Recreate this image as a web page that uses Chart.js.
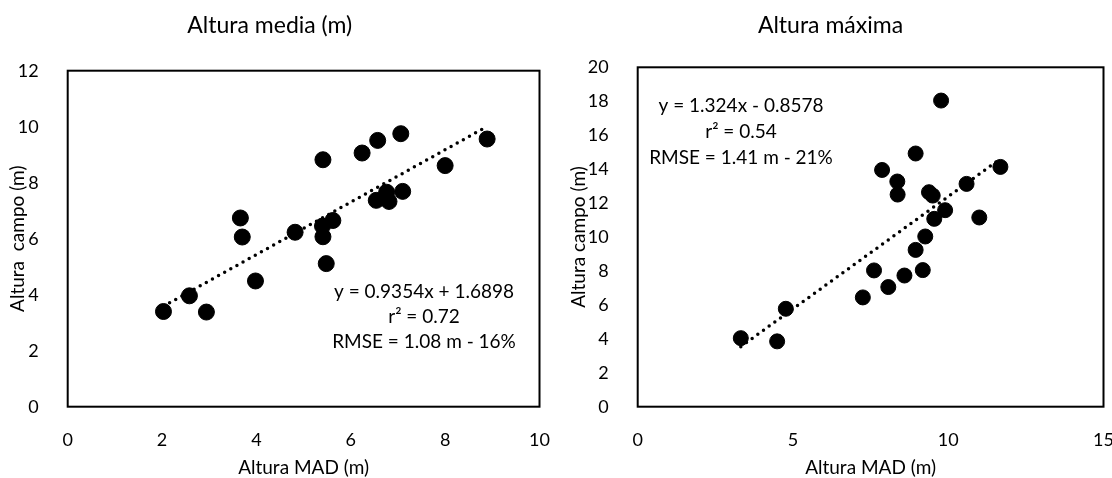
<!DOCTYPE html>
<html>
<head>
<meta charset="utf-8">
<script src="https://cdn.jsdelivr.net/npm/chart.js@4.4.1/dist/chart.umd.min.js"></script>
<style>
    body { margin: 0; background: #fff; }
    #wrap { position: relative; width: 1112px; height: 478px; overflow: hidden; }
    #wrap canvas { position: absolute; top: 0; }
</style>
</head>
<body>
<div id="wrap">
    <canvas id="chart-media" width="556" height="478" style="left:0"></canvas>
    <canvas id="chart-max" width="556" height="478" style="left:556px"></canvas>
</div>
<script>
// Altura media: MAD vs campo
const mediaMAD = [2.03, 2.58, 2.94, 3.66, 3.70, 3.98, 4.82, 5.41, 5.40, 5.41, 5.48, 5.62, 6.24, 6.57, 7.06, 6.54, 6.76, 6.81, 7.10, 8.00, 8.89];
const mediaCampo = [3.40, 3.96, 3.38, 6.74, 6.06, 4.49, 6.23, 8.82, 6.45, 6.07, 5.11, 6.65, 9.06, 9.51, 9.75, 7.37, 7.66, 7.33, 7.69, 8.61, 9.56];
const mediaTrendX = [2.03, 8.89];
const mediaTrendY = [3.59, 10.01];
const mediaText = ['y = 0.9354x + 1.6898', 'r\u00b2 = 0.72', 'RMSE = 1.08 m - 16%'];

// Altura máxima: MAD vs campo
const maxMAD = [3.32, 4.49, 4.77, 7.25, 7.61, 7.87, 8.07, 8.36, 8.37, 8.59, 8.95, 8.95, 9.18, 9.26, 9.38, 9.50, 9.55, 9.77, 9.90, 10.59, 11.00, 11.68];
const maxCampo = [4.04, 3.85, 5.77, 6.44, 8.03, 13.95, 7.05, 13.27, 12.50, 7.73, 14.92, 9.24, 8.05, 10.03, 12.64, 12.44, 11.07, 18.04, 11.58, 13.13, 11.15, 14.13];
const maxTrendX = [3.32, 11.68];
const maxTrendY = [3.54, 14.61];
const maxText = ['y = 1.324x - 0.8578', 'r\u00b2 = 0.54', 'RMSE = 1.41 m - 21%'];

const FONT = 'Lato, "Open Sans", sans-serif';

// Black frame round the plot area
const frameBox = {
    id: 'frameBox',
    afterDraw(chart) {
        const a = chart.chartArea;
        const ctx = chart.ctx;
        ctx.save();
        ctx.strokeStyle = '#000';
        ctx.lineWidth = 2;
        ctx.strokeRect(a.left, a.top, a.right - a.left, a.bottom - a.top);
        ctx.restore();
    }
};

// Equation / r² / RMSE text block
const eqText = {
    id: 'eqText',
    afterDatasetsDraw(chart, args, opts) {
        if (!opts || !opts.lines) return;
        const ctx = chart.ctx;
        ctx.save();
        ctx.fillStyle = '#000';
        ctx.font = '19px ' + FONT;
        ctx.textAlign = 'center';
        ctx.textBaseline = 'middle';
        opts.lines.forEach((line, i) => {
            ctx.fillText(line, opts.cx, opts.cy + i * opts.gap);
        });
        ctx.restore();
    }
};

Chart.register(frameBox, eqText);

function toPoints(xs, ys) {
    return xs.map((x, i) => ({ x: x, y: ys[i] }));
}

function makeChart(canvasId, cfg) {
    const canvas = document.getElementById(canvasId);
    const area = cfg.area;
    return new Chart(canvas, {
        type: 'scatter',
        data: {
            datasets: [
                {
                    type: 'line',
                    data: toPoints(cfg.trendX, cfg.trendY),
                    borderColor: '#000',
                    borderWidth: 3.5,
                    borderDash: [0, 7],
                    borderCapStyle: 'round',
                    pointRadius: 0,
                    fill: false
                },
                {
                    data: toPoints(cfg.xs, cfg.ys),
                    backgroundColor: '#000',
                    borderColor: '#000',
                    pointRadius: cfg.radius,
                    pointHoverRadius: cfg.radius
                }
            ]
        },
        options: {
            responsive: false,
            animation: false,
            devicePixelRatio: 1,
            layout: {
                padding: { left: 0, right: 556 - area.right, top: 0, bottom: 0 }
            },
            scales: {
                x: {
                    type: 'linear',
                    min: 0,
                    max: cfg.xMax,
                    grid: { display: false },
                    border: { display: false },
                    ticks: {
                        stepSize: cfg.xStep,
                        padding: 15,
                        color: '#000',
                        font: { family: FONT, size: 18 }
                    },
                    title: {
                        display: true,
                        text: 'Altura MAD (m)',
                        color: '#000',
                        font: { family: FONT, size: 19, lineHeight: 1 },
                        padding: { top: 0, bottom: 1 }
                    },
                    afterFit(s) {
                        s.height = 478 - area.bottom;
                        s.paddingLeft = 0;
                        s.paddingRight = 0;
                    }
                },
                y: {
                    min: 0,
                    max: cfg.yMax,
                    grid: { display: false },
                    border: { display: false },
                    ticks: {
                        stepSize: 2,
                        padding: 21,
                        color: '#000',
                        font: { family: FONT, size: 18 }
                    },
                    title: {
                        display: true,
                        text: cfg.yTitle,
                        color: '#000',
                        font: { family: FONT, size: 19, lineHeight: 1.2 },
                        padding: { top: cfg.yTitlePad, bottom: 0 }
                    },
                    afterFit(s) {
                        s.width = area.left;
                        s.paddingTop = 0;
                        s.paddingBottom = 0;
                    }
                }
            },
            plugins: {
                legend: { display: false },
                tooltip: { enabled: false },
                title: {
                    display: true,
                    text: cfg.title,
                    color: '#000',
                    font: { family: FONT, size: 23, weight: 'normal', lineHeight: 1.2 },
                    padding: { top: 12, bottom: area.top - 12 - 27.6 }
                },
                eqText: cfg.annot
            }
        }
    });
}

makeChart('chart-media', {
    xs: mediaMAD,
    ys: mediaCampo,
    trendX: mediaTrendX,
    trendY: mediaTrendY,
    xMax: 10,
    xStep: 2,
    yMax: 12,
    radius: 8,
    title: 'Altura media (m)',
    yTitle: 'Altura  campo (m)',
    yTitlePad: 6.6,
    area: { left: 67.7, right: 539.5, top: 70.7, bottom: 406.7 },
    annot: { lines: mediaText, cx: 424, cy: 291.5, gap: 25 }
});

makeChart('chart-max', {
    xs: maxMAD,
    ys: maxCampo,
    trendX: maxTrendX,
    trendY: maxTrendY,
    xMax: 15,
    xStep: 5,
    yMax: 20,
    radius: 7.5,
    title: 'Altura máxima',
    yTitle: 'Altura campo (m)',
    yTitlePad: 11,
    area: { left: 81.7, right: 549, top: 67.3, bottom: 406.7 },
    annot: { lines: maxText, cx: 185, cy: 106, gap: 26 }
});
</script>
</body>
</html>
